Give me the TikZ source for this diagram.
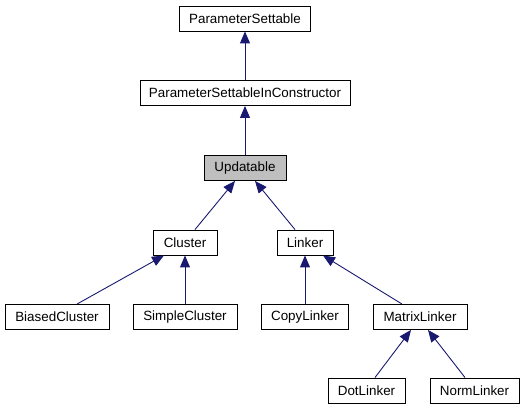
\documentclass[tikz,border=0pt]{standalone}
\usepackage{fontspec}
\setmainfont{Liberation Sans}
\usetikzlibrary{arrows.meta}
\definecolor{edgeblue}{HTML}{191970}
\definecolor{hilite}{HTML}{BFBFBF}
\tikzset{
  cls/.style={draw=black, line width=0.9pt, fill=white, inner sep=0pt, minimum height=25pt,
    font=\fontsize{13.4}{16}\selectfont, anchor=center},
  edge/.style={draw=edgeblue, line width=0.9pt,
    -{Triangle[length=12pt,width=10pt,fill=edgeblue]}}
}
\begin{document}
\begin{tikzpicture}[x=1pt,y=-1pt]
\useasboundingbox (0,0) rectangle (525,411);
\node[cls, minimum width=131pt] (ps) at (245,18.5) {ParameterSettable};
\node[cls, minimum width=210pt] (psic) at (245,93) {ParameterSettableInConstructor};
\node[cls, minimum width=82pt, fill=hilite] (up) at (245,168) {Updatable};
\node[cls, minimum width=64pt] (cl) at (185,242.5) {Cluster};
\node[cls, minimum width=56pt] (lk) at (305,242.5) {Linker};
\node[cls, minimum width=104pt] (bc) at (57,317) {BiasedCluster};
\node[cls, minimum width=104pt] (sc) at (185,317) {SimpleCluster};
\node[cls, minimum width=87pt] (cp) at (305,317) {CopyLinker};
\node[cls, minimum width=94pt] (ml) at (420,317) {MatrixLinker};
\node[cls, minimum width=77pt] (dl) at (366.5,390.5) {DotLinker};
\node[cls, minimum width=89pt] (nl) at (474.5,390.5) {NormLinker};

\draw[edge] (psic.north) -- (ps.south);
\draw[edge] (up.north) -- (psic.south);
\draw[edge] ([xshift=10pt]cl.north) -- ([xshift=-10pt]up.south);
\draw[edge] ([xshift=-10pt]lk.north) -- ([xshift=10pt]up.south);
\draw[edge] ([xshift=20pt]bc.north) -- ([xshift=-21pt]cl.south);
\draw[edge] (sc.north) -- (cl.south);
\draw[edge] (cp.north) -- (lk.south);
\draw[edge] ([xshift=-18pt]ml.north) -- ([xshift=18pt]lk.south);
\draw[edge] ([xshift=8.5pt]dl.north) -- ([xshift=-9pt]ml.south);
\draw[edge] ([xshift=-9.5pt]nl.north) -- ([xshift=8pt]ml.south);
\end{tikzpicture}
\end{document}
